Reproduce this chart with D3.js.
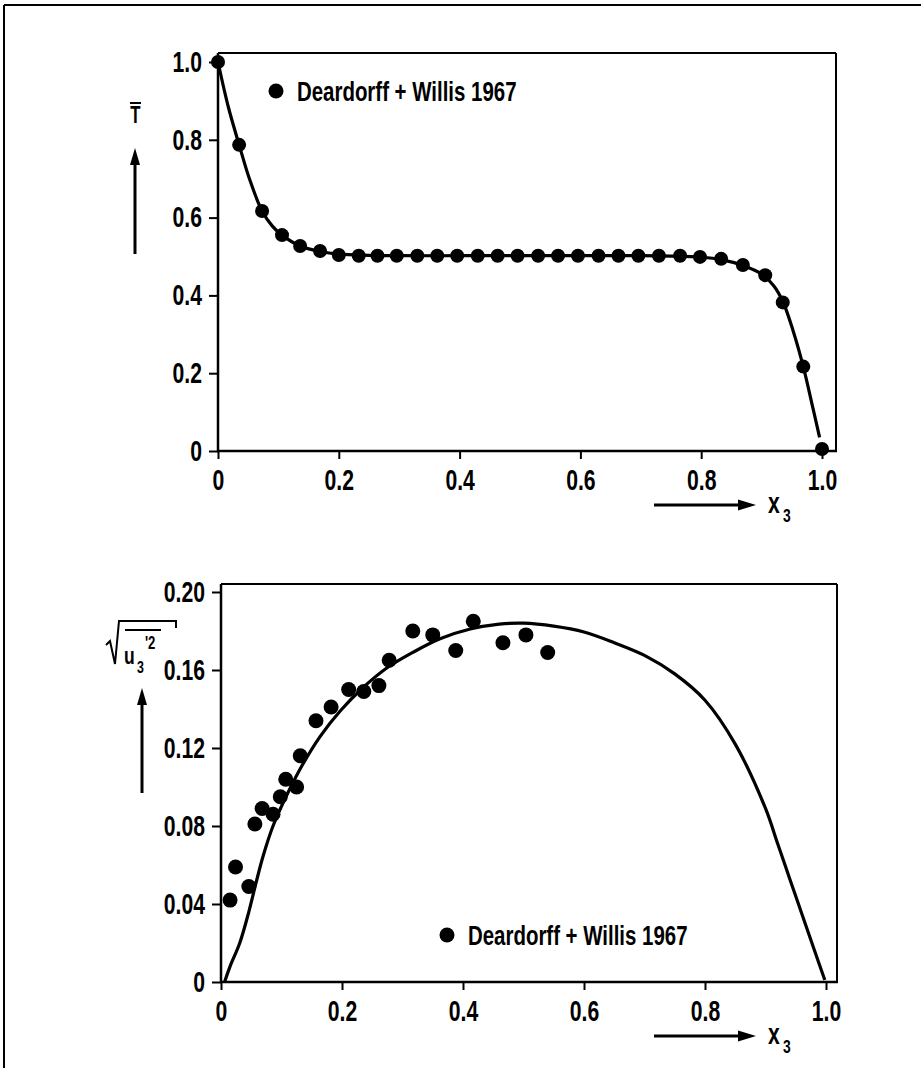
<html>
<head>
<meta charset="utf-8">
<title>Deardorff + Willis profiles</title>
<style>
  body { margin: 0; background: #fff; }
  text { font-family: "Liberation Sans", Arial, sans-serif; font-weight: bold; fill: #000; }
  .axis path.domain { display: none; }
  .axis line { stroke: #000; stroke-width: 2; }
  .axis text { font-size: 29px; }
  .curve { fill: none; stroke: #000; stroke-width: 3.2; }
</style>
<script src="https://cdn.jsdelivr.net/npm/d3@7"></script>
</head>
<body>
<script>
// ---------- data ----------
var xTicks = [0, 0.2, 0.4, 0.6, 0.8, 1.0];
var xTickLabels = ["0", "0.2", "0.4", "0.6", "0.8", "1.0"];

// top panel : mean temperature T
var tTicks = [0, 0.2, 0.4, 0.6, 0.8, 1.0];
var tTickLabels = ["0", "0.2", "0.4", "0.6", "0.8", "1.0"];
var tPointX = [0, 0.035, 0.073, 0.106, 0.136, 0.169, 0.2, 0.233, 0.264, 0.296, 0.33, 0.363, 0.396, 0.43, 0.463, 0.496,
               0.53, 0.563, 0.596, 0.63, 0.663, 0.696, 0.73, 0.765, 0.798, 0.833, 0.869, 0.906, 0.935, 0.969, 1.0];
var tPointY = [1.0, 0.787, 0.617, 0.555, 0.527, 0.514, 0.504, 0.502, 0.502, 0.502, 0.502, 0.502, 0.502, 0.502, 0.502, 0.502,
               0.502, 0.502, 0.502, 0.502, 0.502, 0.502, 0.502, 0.502, 0.499, 0.494, 0.478, 0.452, 0.382, 0.217, 0.005];
var tCurveX = [0, 0.017, 0.035, 0.052, 0.073, 0.09, 0.106, 0.136, 0.169, 0.2, 0.25, 0.3, 0.4, 0.5, 0.6, 0.7, 0.75,
               0.8, 0.833, 0.869, 0.9, 0.92, 0.935, 0.952, 0.969, 0.985, 0.996];
var tCurveY = [1.0, 0.885, 0.787, 0.7, 0.617, 0.578, 0.555, 0.527, 0.513, 0.506, 0.503, 0.502, 0.502, 0.502, 0.502, 0.502, 0.501,
               0.498, 0.492, 0.477, 0.455, 0.425, 0.385, 0.31, 0.217, 0.11, 0.035];

// bottom panel : rms vertical velocity
var uTicks = [0, 0.04, 0.08, 0.12, 0.16, 0.20];
var uTickLabels = ["0", "0.04", "0.08", "0.12", "0.16", "0.20"];
var uPointX = [0.015, 0.024, 0.046, 0.056, 0.068, 0.086, 0.098, 0.107, 0.125, 0.131, 0.157, 0.182, 0.211, 0.236,
               0.261, 0.278, 0.317, 0.350, 0.388, 0.417, 0.466, 0.504, 0.540];
var uPointY = [0.042, 0.059, 0.049, 0.081, 0.089, 0.086, 0.095, 0.104, 0.100, 0.116, 0.134, 0.141, 0.150, 0.149,
               0.152, 0.165, 0.180, 0.178, 0.170, 0.185, 0.174, 0.178, 0.169];
var uCurveX = [0.006, 0.015, 0.031, 0.046, 0.058, 0.07, 0.086, 0.109, 0.134, 0.164, 0.197, 0.235, 0.274, 0.317, 0.362,
               0.412, 0.46, 0.5, 0.55, 0.6, 0.65, 0.7, 0.75, 0.8, 0.85, 0.9, 0.92, 0.94, 0.96, 0.98, 0.998];
var uCurveY = [0.0, 0.008, 0.020, 0.036, 0.051, 0.065, 0.080, 0.096, 0.111, 0.126, 0.139, 0.151, 0.161, 0.169, 0.176,
               0.181, 0.1835, 0.184, 0.1825, 0.1795, 0.174, 0.1675, 0.158, 0.1445, 0.122, 0.089, 0.071, 0.053, 0.035, 0.017, 0.001];

var legendLabel = "Deardorff + Willis 1967";

// ---------- layout ----------
var width = 921, height = 1068;
var narrow = 0.73; // squeeze text horizontally to get the condensed look
var svg = d3.select("body").append("svg").attr("width", width).attr("height", height);

// outer frame (left + top edges visible)
svg.append("line").attr("x1", 4).attr("y1", 5).attr("x2", width).attr("y2", 5).attr("stroke", "#000").attr("stroke-width", 2);
svg.append("line").attr("x1", 4).attr("y1", 5).attr("x2", 4).attr("y2", height).attr("stroke", "#000").attr("stroke-width", 2);

function zip(xs, ys) { return xs.map(function(d, i) { return [d, ys[i]]; }); }

function panel(opt) {
  var x = d3.scaleLinear().domain([0, 1]).range([opt.x0, opt.x1]);
  var y = d3.scaleLinear().domain([0, opt.ymax]).range([opt.y0, opt.y1]);
  var g = svg.append("g");

  // box: thin top / right, heavier left / bottom
  g.append("line").attr("x1", opt.x0).attr("x2", opt.right).attr("y1", opt.top).attr("y2", opt.top).attr("stroke", "#000").attr("stroke-width", 2);
  g.append("line").attr("x1", opt.right).attr("x2", opt.right).attr("y1", opt.top).attr("y2", opt.y0).attr("stroke", "#000").attr("stroke-width", 2);
  g.append("line").attr("x1", opt.x0).attr("x2", opt.x0).attr("y1", opt.top).attr("y2", opt.y0 + 1).attr("stroke", "#000").attr("stroke-width", 2.5);
  g.append("line").attr("x1", opt.x0 - 1).attr("x2", opt.right + 1).attr("y1", opt.y0).attr("y2", opt.y0).attr("stroke", "#000").attr("stroke-width", 2.5);

  g.append("g").attr("class", "axis")
    .attr("transform", "translate(0," + opt.y0 + ")")
    .call(d3.axisBottom(x).tickValues(xTicks).tickSize(8).tickPadding(10)
      .tickFormat(function(d, i) { return xTickLabels[i]; }));
  g.append("g").attr("class", "axis")
    .attr("transform", "translate(" + opt.x0 + ",0)")
    .call(d3.axisLeft(y).tickValues(opt.yTicks).tickSize(9).tickPadding(7)
      .tickFormat(function(d, i) { return opt.yLabels[i]; }));

  var line = d3.line().x(function(d) { return x(d[0]); }).y(function(d) { return y(d[1]); }).curve(d3.curveCatmullRom.alpha(0.5));
  g.append("path").attr("class", "curve").attr("d", line(zip(opt.cx, opt.cy)));

  g.selectAll("circle.pt").data(zip(opt.px, opt.py)).enter().append("circle")
    .attr("class", "pt")
    .attr("cx", function(d) { return x(d[0]); })
    .attr("cy", function(d) { return y(d[1]); })
    .attr("r", opt.r).attr("fill", "#000");

  // legend
  g.append("circle").attr("cx", opt.legX).attr("cy", opt.legY).attr("r", 7.5).attr("fill", "#000");
  g.append("text").attr("x", opt.legX + 21).attr("y", opt.legY).attr("dy", "0.36em")
    .style("font-size", "28px").text(legendLabel);

  // x3 arrow
  var ay = opt.y0 + 54;
  g.append("line").attr("x1", 654).attr("x2", 742).attr("y1", ay).attr("y2", ay).attr("stroke", "#000").attr("stroke-width", 3);
  g.append("path").attr("d", "M738," + (ay - 5.5) + "L756," + ay + "L738," + (ay + 5.5) + "Z").attr("fill", "#000");
  g.append("text").attr("x", 768).attr("y", ay + 8).style("font-size", "29px").text("x");
  g.append("text").attr("x", 783).attr("y", ay + 17).style("font-size", "19px").text("3");

  // vertical arrow next to y label
  g.append("line").attr("x1", opt.arrX).attr("x2", opt.arrX).attr("y1", opt.arrBottom).attr("y2", opt.arrTop + 14)
    .attr("stroke", "#000").attr("stroke-width", 3);
  g.append("path").attr("d", "M" + (opt.arrX - 5) + "," + (opt.arrTop + 17) + "L" + opt.arrX + "," + opt.arrTop + "L" + (opt.arrX + 5) + "," + (opt.arrTop + 17) + "Z")
    .attr("fill", "#000");
  return g;
}

var gTop = panel({
  x0: 218, x1: 822, right: 836, y0: 451, y1: 62, top: 53, ymax: 1.0,
  yTicks: tTicks, yLabels: tTickLabels,
  px: tPointX, py: tPointY, cx: tCurveX, cy: tCurveY, r: 7,
  legX: 276, legY: 91, arrX: 135, arrTop: 148, arrBottom: 254
});
// T with overbar
gTop.append("line").attr("x1", 130).attr("x2", 141).attr("y1", 103).attr("y2", 103).attr("stroke", "#000").attr("stroke-width", 2);
gTop.append("text").attr("x", 135.5).attr("y", 123).attr("text-anchor", "middle").style("font-size", "23px").text("T");

var gBot = panel({
  x0: 221, x1: 826, right: 837, y0: 982, y1: 592, top: 584, ymax: 0.20,
  yTicks: uTicks, yLabels: uTickLabels,
  px: uPointX, py: uPointY, cx: uCurveX, cy: uCurveY, r: 7.5,
  legX: 447, legY: 935, arrX: 142, arrTop: 688, arrBottom: 793
});
// sqrt( mean(u3'^2) )
gBot.append("path").attr("d", "M106,645L110,641L115,664L119,621L176,621L176,628")
  .attr("fill", "none").attr("stroke", "#000").attr("stroke-width", 2);
gBot.append("line").attr("x1", 125).attr("x2", 161).attr("y1", 630).attr("y2", 630).attr("stroke", "#000").attr("stroke-width", 2.2);
gBot.append("text").attr("x", 124).attr("y", 664).style("font-size", "24px").text("u");
gBot.append("text").attr("x", 137).attr("y", 673).style("font-size", "17px").text("3");
gBot.append("text").attr("x", 145).attr("y", 649).style("font-size", "18px").text("'2");

// condense every text horizontally, keeping its anchor point in place
svg.selectAll("text").each(function() {
  var t = d3.select(this);
  var x0 = +(t.attr("x") || 0);
  t.attr("x", x0 / narrow).attr("transform", "scale(" + narrow + ",1)");
});
</script>
</body>
</html>
